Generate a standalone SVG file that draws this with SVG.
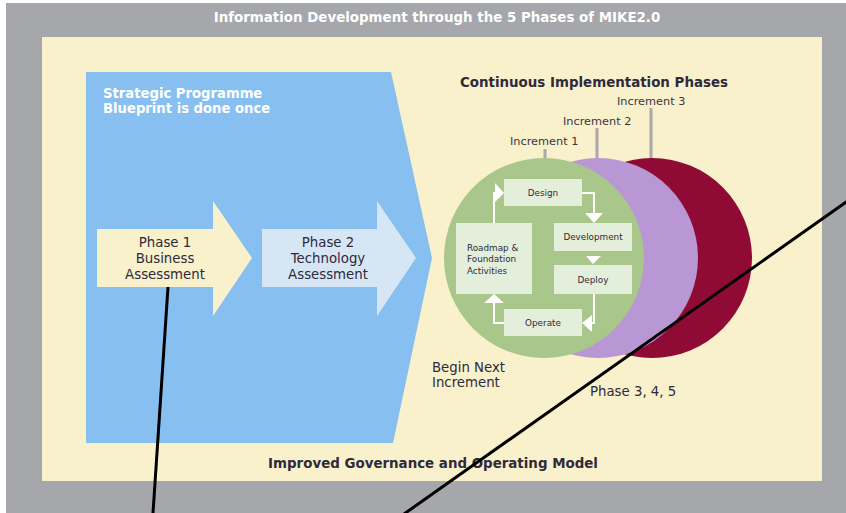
<svg xmlns="http://www.w3.org/2000/svg" width="846" height="513" viewBox="0 0 846 513">
<style>
.t{font-family:"DejaVu Sans",Verdana,sans-serif;}
.b{font-weight:bold;}
.wt{fill:#ffffff;}
.dk{fill:#2e2a3a;}
.inc{font-size:11.3px;fill:#3a3540;}
.box{fill:#e3efda;}
.sm{font-size:8.8px;fill:#2e2a3a;}
.wl{stroke:#ffffff;stroke-width:2;fill:none;}
.wh{fill:#ffffff;}
.blk{stroke:#000000;stroke-width:3;fill:none;}
</style>
<rect x="0" y="0" width="846" height="513" fill="#ffffff"/>
<rect x="6" y="3" width="840" height="510" fill="#a6a7ab"/>
<text class="t b wt" x="437" y="22" font-size="13.4" text-anchor="middle">Information Development through the 5 Phases of MIKE2.0</text>
<rect x="42" y="37" width="780" height="444" fill="#f9f0cc"/>

<g id="blueprint">
<polygon points="86,72 391,72 432,258 393,443 86,443" fill="#86bff0"/>
<text class="t b wt" font-size="13.2" x="103" y="98">Strategic Programme</text>
<text class="t b wt" font-size="13.2" x="103" y="113">Blueprint is done once</text>
</g>

<g id="phase1">
<polygon points="97,229 213,229 213,201 252,258 213,316 213,287 97,287" fill="#f9f0cc"/>
<text class="t dk" font-size="13.3" text-anchor="middle" x="165" y="247">Phase 1</text>
<text class="t dk" font-size="13.3" text-anchor="middle" x="165" y="263">Business</text>
<text class="t dk" font-size="13.3" text-anchor="middle" x="165" y="279">Assessment</text>
</g>

<g id="phase2">
<polygon points="262,229 377,229 377,201 416,258 377,316 377,287 262,287" fill="#d6e6f5"/>
<text class="t dk" font-size="13.3" text-anchor="middle" x="328" y="247">Phase 2</text>
<text class="t dk" font-size="13.3" text-anchor="middle" x="328" y="263">Technology</text>
<text class="t dk" font-size="13.3" text-anchor="middle" x="328" y="279">Assessment</text>
</g>

<text class="t b dk" font-size="13.4" x="460" y="87">Continuous Implementation Phases</text>

<g id="increment3">
<line x1="651" y1="108" x2="651" y2="160" stroke="#a9a9ad" stroke-width="3"/>
<circle cx="652" cy="258" r="100" fill="#8f0b36"/>
<text class="t inc" x="617" y="105">Increment 3</text>
</g>
<g id="increment2">
<line x1="597" y1="128" x2="597" y2="160" stroke="#a9a9ad" stroke-width="3"/>
<circle cx="598" cy="258" r="100" fill="#b996d4"/>
<text class="t inc" x="563" y="125">Increment 2</text>
</g>
<g id="increment1">
<line x1="545" y1="149" x2="545" y2="160" stroke="#a9a9ad" stroke-width="3"/>
<circle cx="544" cy="258" r="100" fill="#a9c68b"/>
<text class="t inc" x="510" y="145">Increment 1</text>
</g>

<g id="connectors">
<path class="wl" d="M582,193 H594 V214"/>
<polygon class="wh" points="585,213 603,213 594,223"/>
<polygon class="wh" points="586,256 601,256 593,264"/>
<path class="wl" d="M594,294 V323 H590"/>
<polygon class="wh" points="592,315 592,332 582,323"/>
<path class="wl" d="M504,323 H494 V303"/>
<polygon class="wh" points="484,303 504,303 494,294"/>
<path class="wl" d="M494,223 V193 H496"/>
<polygon class="wh" points="495,183 495,202 504,193"/>
</g>

<g id="design"><rect class="box" x="504" y="179" width="78" height="27"/><text class="t sm" x="543" y="196" text-anchor="middle">Design</text></g>
<g id="development"><rect class="box" x="554" y="223" width="78" height="28"/><text class="t sm" x="593" y="240" text-anchor="middle">Development</text></g>
<g id="deploy"><rect class="box" x="554" y="265" width="78" height="29"/><text class="t sm" x="593" y="283" text-anchor="middle">Deploy</text></g>
<g id="operate"><rect class="box" x="504" y="309" width="78" height="27"/><text class="t sm" x="543" y="326" text-anchor="middle">Operate</text></g>
<g id="roadmap"><rect class="box" x="456" y="223" width="76" height="71"/>
<text class="t sm" x="467" y="251">Roadmap &amp;</text>
<text class="t sm" x="467" y="262">Foundation</text>
<text class="t sm" x="467" y="274">Activities</text></g>

<text class="t dk" font-size="13.3" x="432" y="372">Begin Next</text>
<text class="t dk" font-size="13.3" x="432" y="387">Increment</text>
<text class="t dk" font-size="13.3" x="590" y="396">Phase 3, 4, 5</text>

<text class="t b dk" font-size="13.4" x="433" y="468" text-anchor="middle">Improved Governance and Operating Model</text>

<line class="blk" x1="168" y1="287" x2="153" y2="513"/>
<line class="blk" x1="849" y1="200" x2="404" y2="514"/>
</svg>
